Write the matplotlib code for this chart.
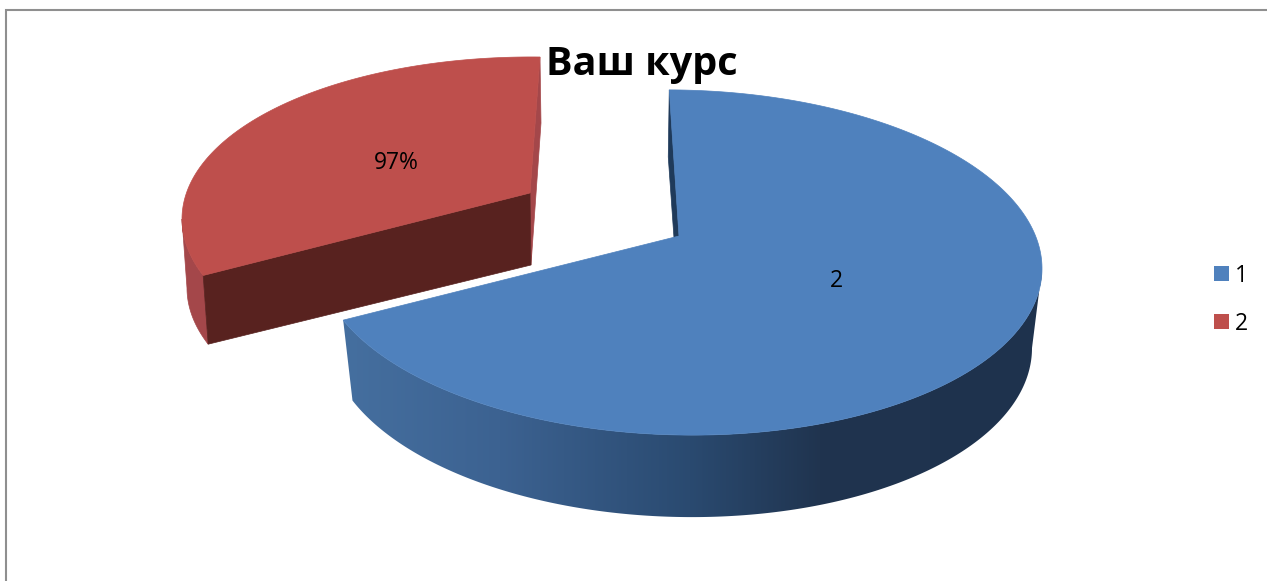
import numpy as np
import matplotlib
matplotlib.use("Agg")
import matplotlib.pyplot as plt
from matplotlib.patches import Rectangle, Polygon

# --- data ---
categories = ["1", "2"]
values = [69.5, 30.5]
slice_labels = ["2", "97%"]
title = "Ваш курс"

# --- layout / style ---
W, H = 1267, 581
top_colors = ["#4f81bd", "#be4f4c"]
face_color = "#58221f"
red_side = "#a4474a"
blue_inner = "#1f3a5a"
FONT = ["Open Sans", "Noto Sans", "DejaVu Sans"]

fig = plt.figure(figsize=(W / 100, H / 100), dpi=100)
ax = fig.add_axes([0, 0, 1, 1])

sweeps = np.array(values) / sum(values) * 360.0


def rim(cx, cy, rx, ry, tilt, a):
    a = np.radians(a)
    return cx + rx * np.cos(a), cy - ry * np.sin(a) + tilt * np.cos(a)


# chart frame
ax.plot([6, 6, W], [H, 10, 10], color="#8f8f8f", lw=1.5, solid_joinstyle="miter")

# --- slice 2 (exploded, red) ---
r_top = (540, 223, 358, 166, 4)
r_bot = (545, 293, 358, 165, 5)
r_apex = (530, 193)
r_apex_low = (531, 265)
r_side = (541, 123)
r_start = 90.0
r_end = r_start + sweeps[1]

a = np.linspace(180, r_end, 40)
x1, y1 = rim(*r_top, a)
x2, y2 = rim(*r_bot, a)
ax.fill(np.r_[x1, x2[::-1]], np.r_[y1, y2[::-1]], color=red_side, lw=0.5, zorder=2)

sx, sy = rim(*r_top, r_start)
ax.fill([sx, r_side[0], r_apex_low[0], r_apex[0]], [sy, r_side[1], r_apex_low[1], r_apex[1]],
        color=red_side, lw=0.5, zorder=2)

ex, ey = rim(*r_top, r_end)
ex2, ey2 = rim(*r_bot, r_end)
ax.fill([ex, r_apex[0], r_apex_low[0], ex2], [ey, r_apex[1], r_apex_low[1], ey2],
        color=face_color, lw=0.5, zorder=3)

a = np.linspace(r_start, r_end, 120)
x1, y1 = rim(*r_top, a)
ax.fill(np.r_[r_apex[0], x1], np.r_[r_apex[1], y1], color=top_colors[1], lw=0.5, zorder=4)

# --- slice 1 (blue) ---
b_top = (680, 262.5, 362, 172.5, 6)
b_bot = (680, 342, 352, 175, 6)
b_apex = (679, 236)
b_start = 91.7
b_end = b_start - sweeps[0]

# inner radial face sliver
sx, sy = rim(*b_top, b_start)
ax.fill([sx, sx - 1, 674, b_apex[0]], [sy, 157, 238, b_apex[1]],
        color=blue_inner, lw=0.5, zorder=5)

# outer wall with horizontal shading, clipped to the wall outline
stops_x = [345, 500, 690, 820, 1040]
stops_rgb = np.array([
    [0x45, 0x6f, 0x9f],
    [0x3c, 0x62, 0x91],
    [0x2a, 0x4a, 0x70],
    [0x20, 0x34, 0x4f],
    [0x1e, 0x32, 0x4d],
]) / 255.0
a = np.linspace(b_end, 0, 260)
x1, y1 = rim(*b_top, a)
x2, y2 = rim(*b_bot, a)
wall = Polygon(np.c_[np.r_[x1, x2[::-1]], np.r_[y1, y2[::-1]]], closed=True,
               transform=ax.transData, facecolor="none", edgecolor="none")
xs = np.arange(W)
grad = np.stack([np.interp(xs, stops_x, stops_rgb[:, k]) for k in range(3)], axis=-1)[None, :, :]
im = ax.imshow(grad, extent=(0, W, H, 0), aspect="auto", interpolation="bilinear", zorder=5)
im.set_clip_path(wall)

a = np.linspace(b_start, b_end, 300)
x1, y1 = rim(*b_top, a)
ax.fill(np.r_[b_apex[0], x1], np.r_[b_apex[1], y1], color=top_colors[0], lw=0.5, zorder=6)

# --- text ---
ax.text(642, 64, title, ha="center", va="center", fontsize=28.5, fontweight="bold",
        family=FONT, color="black", zorder=8)
label_pos = [(836, 281), (396, 163)]
for (lx, ly), s in zip(label_pos, slice_labels):
    ax.text(lx, ly, s, ha="center", va="center", fontsize=16.5, family=FONT, color="black", zorder=8)

# --- legend ---
for cat, col, ly, ty in zip(categories, top_colors, [273.5, 321.5], [276.5, 324.5]):
    ax.add_patch(Rectangle((1214, ly - 7.5), 15, 15, facecolor=col, edgecolor="none", zorder=8))
    ax.text(1235, ty, cat, ha="left", va="center", fontsize=16.5, family=FONT, color="black", zorder=8)

ax.set_xlim(0, W)
ax.set_ylim(H, 0)
ax.axis("off")

fig.savefig("out.png", dpi=100, facecolor="white")
